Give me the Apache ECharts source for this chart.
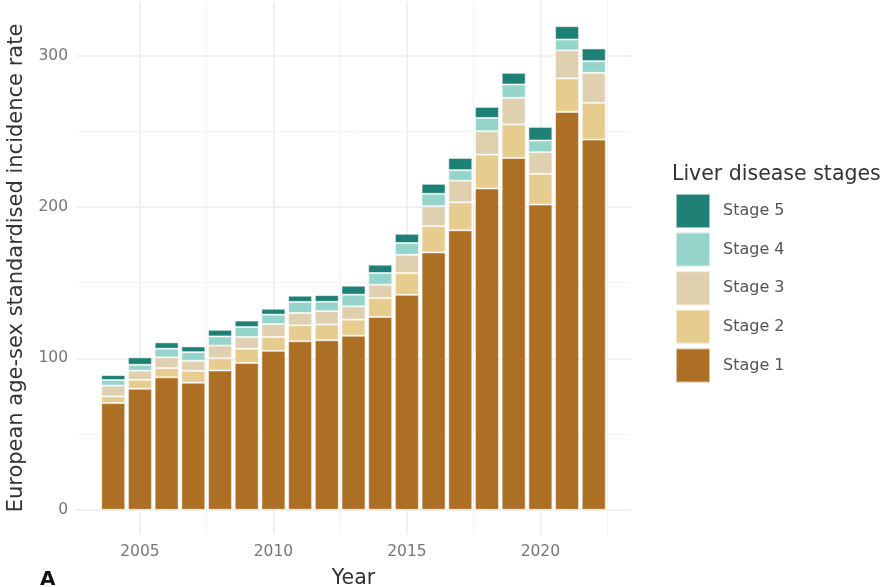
<!DOCTYPE html>
<html>
<head>
<meta charset="utf-8">
<script src="https://cdn.jsdelivr.net/npm/echarts@6/dist/echarts.min.js"></script>
<style>
  html, body { margin: 0; padding: 0; background: #fff; }
  #chart { width: 887px; height: 587px; }
</style>
</head>
<body>
<div id="chart"></div>
<script>
// Annual incidence by liver disease stage (European age-sex standardised rate)
const years = [2004, 2005, 2006, 2007, 2008, 2009, 2010, 2011, 2012, 2013,
               2014, 2015, 2016, 2017, 2018, 2019, 2020, 2021, 2022];
const stage1 = [70.5, 80, 87.5, 84, 92, 97, 105, 111.3, 112, 115,
                127.4, 142, 170, 184.6, 212.2, 232.4, 201.6, 262.8, 244.5];
const stage2 = [4.4, 5.9, 6.1, 7.8, 8.1, 9.4, 9.1, 10.5, 10.4, 10.6,
                12.5, 14.3, 17.3, 18.5, 22.4, 22.1, 20.3, 22.1, 24.3];
const stage3 = [7.1, 6, 7.1, 6.6, 8.4, 7.7, 8.6, 8.2, 8.8, 8.8,
                8.8, 12.1, 13.2, 14.3, 15.4, 17.6, 14.3, 18.5, 19.8];
const stage4 = [3.7, 3.9, 5.7, 5.7, 6, 6.6, 6.2, 7.3, 6.2, 7.7,
                7.7, 7.8, 8.2, 6.9, 8.8, 8.8, 7.7, 7.2, 7.7];
const stage5 = [3.3, 4.9, 4.2, 3.8, 4.4, 4.3, 3.9, 4.1, 4.4, 5.9,
                5.5, 6.1, 6.6, 8.1, 7.3, 7.7, 9, 8.8, 8.4];

const stageNames = ['Stage 1', 'Stage 2', 'Stage 3', 'Stage 4', 'Stage 5'];
const stageColors = ['#AC6F24', '#E6CC8F', '#DFD0AF', '#95D4CA', '#1F8075'];
const stageValues = [stage1, stage2, stage3, stage4, stage5];

const xTicks = [2005, 2010, 2015, 2020];
const xMinorTicks = [2007.5, 2012.5, 2017.5, 2022.5];
const yTicks = [0, 100, 200, 300];
const yMinorTicks = [50, 150, 250];

// Panel geometry
const W = 887;
const PANEL_LEFT = 76, PANEL_RIGHT = 256, PANEL_TOP = 2, PANEL_BOTTOM = 53;

// Axis limits with a 5% padding around the data range
const barW = 0.9;
const totals = years.map((_, i) => stageValues.reduce((s, arr) => s + arr[i], 0));
const yTop = Math.max(...totals);
const yMin = -0.05 * yTop;
const yMax = 1.05 * yTop;
const xLo = years[0] - barW / 2, xHi = years[years.length - 1] + barW / 2;
const xMin = xLo - 0.05 * (xHi - xLo);
const xMax = xHi + 0.05 * (xHi - xLo);

// The bar grid spans exactly one year per category band, aligned with the value axis
const pxPerYear = (W - PANEL_LEFT - PANEL_RIGHT) / (xMax - xMin);
const barGridLeft = PANEL_LEFT + (years[0] - 0.5 - xMin) * pxPerYear;
const barGridRight = PANEL_RIGHT + (xMax - (years[years.length - 1] + 0.5)) * pxPerYear;

const FONT = 'DejaVu Sans';

const barSeries = stageNames.map((name, k) => ({
  name: name,
  type: 'bar',
  stack: 'total',
  xAxisIndex: 1,
  yAxisIndex: 1,
  barWidth: (barW * 100) + '%',
  z: 3,
  itemStyle: { color: stageColors[k], borderColor: 'rgba(255,255,255,0.55)', borderWidth: 1 },
  emphasis: { disabled: true },
  data: stageValues[k]
}));

const gridLine = (w, c) => ({ type: 'solid', width: w, color: c });
const gridSeries = {
  type: 'line',
  data: [],
  xAxisIndex: 0,
  yAxisIndex: 0,
  z: 1,
  silent: true,
  markLine: {
    z: 1,
    silent: true,
    symbol: 'none',
    label: { show: false },
    animation: false,
    data: [
      ...xMinorTicks.map(v => ({ xAxis: v, lineStyle: gridLine(0.9, '#f2f2f2') })),
      ...yMinorTicks.map(v => ({ yAxis: v, lineStyle: gridLine(0.9, '#f2f2f2') })),
      ...xTicks.map(v => ({ xAxis: v, lineStyle: gridLine(1.5, '#ececec') })),
      ...yTicks.map(v => ({ yAxis: v, lineStyle: gridLine(1.5, '#ececec') }))
    ]
  }
};

const chart = echarts.init(document.getElementById('chart'), null, { renderer: 'canvas' });
chart.setOption({
  animation: false,
  backgroundColor: '#fff',
  textStyle: { fontFamily: FONT },
  grid: [
    { left: PANEL_LEFT, right: PANEL_RIGHT, top: PANEL_TOP, bottom: PANEL_BOTTOM, outerBoundsMode: 'none', containLabel: false },
    { left: barGridLeft, right: barGridRight, top: PANEL_TOP, bottom: PANEL_BOTTOM, outerBoundsMode: 'none', containLabel: false }
  ],
  xAxis: [
    {
      type: 'value',
      gridIndex: 0,
      min: xMin,
      max: xMax,
      axisLine: { show: false },
      axisTick: { show: false },
      splitLine: { show: false },
      axisLabel: {
        customValues: xTicks,
        formatter: v => String(v),
        fontSize: 15.5, color: '#777', margin: 10, fontFamily: FONT
      },
      name: 'Year',
      nameLocation: 'middle',
      nameGap: 34,
      nameTextStyle: { fontSize: 20.5, color: '#333', fontFamily: FONT }
    },
    {
      type: 'category',
      gridIndex: 1,
      data: years.map(String),
      show: false
    }
  ],
  yAxis: [
    {
      type: 'value',
      gridIndex: 0,
      min: yMin,
      max: yMax,
      axisLine: { show: false },
      axisTick: { show: false },
      splitLine: { show: false },
      axisLabel: {
        customValues: yTicks,
        formatter: v => String(v),
        fontSize: 15.5, color: '#777', margin: 8, fontFamily: FONT
      },
      name: 'European age-sex standardised incidence rate',
      nameLocation: 'middle',
      nameRotate: 90,
      nameGap: 49,
      nameTextStyle: { fontSize: 21, color: '#333', fontFamily: FONT }
    },
    {
      type: 'value',
      gridIndex: 1,
      min: yMin,
      max: yMax,
      show: false,
      splitLine: { show: false }
    }
  ],
  legend: {
    data: stageNames.slice().reverse(),
    orient: 'vertical',
    left: 675,
    top: 193,
    padding: 0,
    icon: 'rect',
    itemWidth: 34,
    itemHeight: 34,
    itemGap: 2.6,
    selectedMode: false,
    textStyle: { fontSize: 16, color: '#555', fontFamily: FONT, padding: [0, 0, 0, 8] }
  },
  graphic: [
    {
      type: 'text',
      left: 672,
      top: 164,
      style: { text: 'Liver disease stages', fontSize: 20.5, fill: '#333', fontFamily: FONT }
    },
    {
      type: 'text',
      left: 40,
      top: 570,
      style: { text: 'A', fontSize: 20, fontWeight: 'bold', fill: '#111', fontFamily: FONT }
    }
  ],
  series: [gridSeries, ...barSeries]
});
</script>
</body>
</html>
